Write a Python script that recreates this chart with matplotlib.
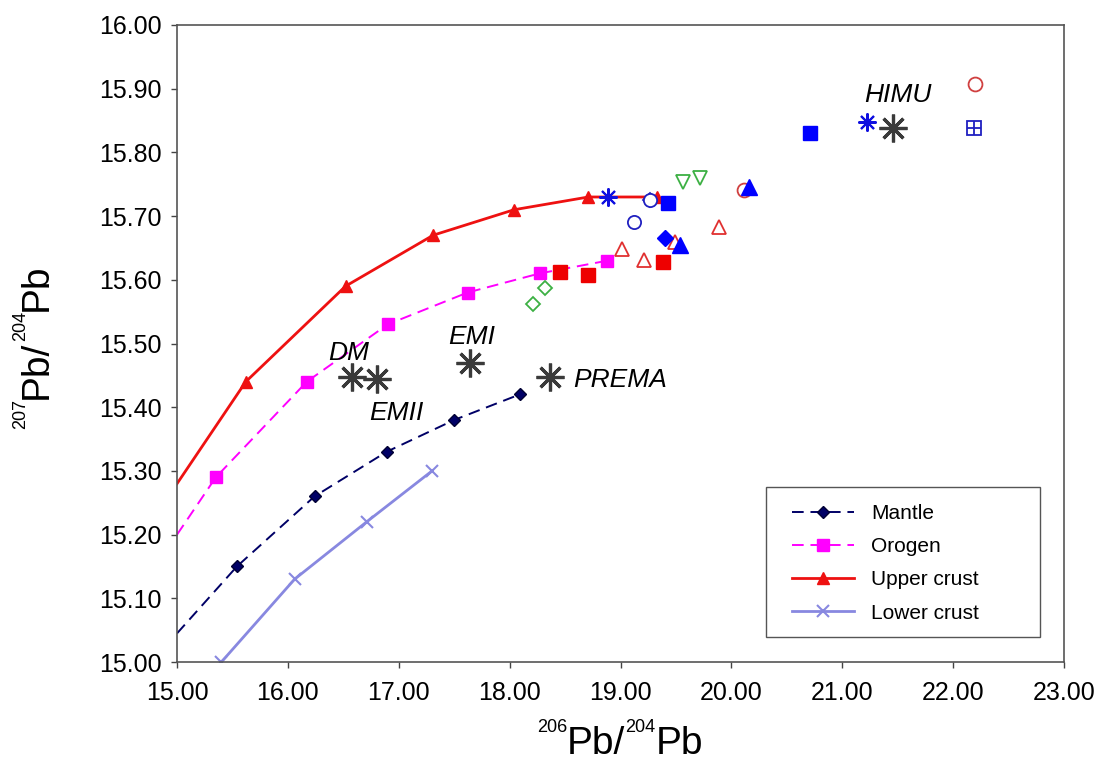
import matplotlib
matplotlib.use('Agg')
import matplotlib.pyplot as plt
from matplotlib.patches import Rectangle
from matplotlib.transforms import IdentityTransform

plt.rcParams['font.family'] = ['Liberation Sans', 'DejaVu Sans']

# growth curves (first point is where the line meets the y axis, no marker)
mantle_x = [15.00, 15.54, 16.24, 16.89, 17.50, 18.09]
mantle_y = [15.045, 15.15, 15.26, 15.33, 15.38, 15.42]
orogen_x = [15.00, 15.35, 16.17, 16.90, 17.62, 18.27, 18.88]
orogen_y = [15.20, 15.29, 15.44, 15.53, 15.58, 15.61, 15.63]
upper_x = [15.00, 15.62, 16.52, 17.31, 18.04, 18.71, 19.33]
upper_y = [15.28, 15.44, 15.59, 15.67, 15.71, 15.73, 15.73]
lower_x = [15.40, 16.06, 16.71, 17.30]
lower_y = [15.00, 15.13, 15.22, 15.30]

# mantle end-members
member_names = ['DM', 'EMII', 'EMI', 'PREMA', 'HIMU']
member_x = [16.58, 16.80, 17.64, 18.36, 21.46]
member_y = [15.447, 15.444, 15.469, 15.447, 15.838]

# samples
blue_sq_x = [19.43, 20.71]
blue_sq_y = [15.72, 15.83]
blue_tri_x = [19.54, 20.16]
blue_tri_y = [15.655, 15.745]
blue_dia_x = [19.40]
blue_dia_y = [15.665]
blue_star_x = [18.89, 21.22]
blue_star_y = [15.73, 15.848]
blue_circ_x = [19.12, 19.27]
blue_circ_y = [15.69, 15.725]
blue_odia_x = [19.27]
blue_odia_y = [15.725]
blue_boxplus_x = [22.19]
blue_boxplus_y = [15.838]
red_sq_x = [18.45, 18.71, 19.38]
red_sq_y = [15.613, 15.608, 15.628]
red_otri_x = [19.01, 19.21, 19.49, 19.89]
red_otri_y = [15.648, 15.631, 15.66, 15.683]
red_circ_x = [20.11, 22.20]
red_circ_y = [15.741, 15.907]
green_dia_x = [18.21, 18.32]
green_dia_y = [15.562, 15.587]
green_dtri_x = [19.56, 19.72]
green_dtri_y = [15.754, 15.76]


def pb_label(fig, iso, x0, y0, rotation=0):
    # 206Pb/204Pb with small superscripts, laid out piece by piece in pixels
    pieces = [(iso[0], 13, 22), ('Pb/', 28, 0), (iso[1], 13, 22), ('Pb', 28, 0)]
    renderer = fig.canvas.get_renderer()
    texts, widths = [], []
    for s, size, rise in pieces:
        t = fig.text(0, 0, s, fontsize=size, ha='left', va='baseline',
                     rotation_mode='anchor', transform=IdentityTransform())
        widths.append(t.get_window_extent(renderer).width)
        texts.append((t, rise))
    pos = -sum(widths) / 2
    for (t, rise), w in zip(texts, widths):
        if rotation == 0:
            t.set_position((x0 + pos, y0 + rise))
        else:
            t.set_rotation(90)
            t.set_position((x0 - rise, y0 + pos))
        pos += w


fig = plt.figure(figsize=(11.01, 7.62), dpi=100)
ax = fig.add_axes([0.1608, 0.1312, 0.8056, 0.836])

dash = (0, (6, 3.5))
ax.plot(mantle_x, mantle_y, color='#000066', ls=dash, lw=1.4,
        marker='D', ms=6, mec='#000033', markevery=range(1, len(mantle_x)),
        label='Mantle', zorder=2)
ax.plot(orogen_x, orogen_y, color='#FF00FF', ls=dash, lw=1.4,
        marker='s', ms=8.5, markevery=range(1, len(orogen_x)), label='Orogen', zorder=2)
ax.plot(upper_x, upper_y, color='#EE1111', ls='-', lw=2.0,
        marker='^', ms=9, markevery=range(1, len(upper_x)), label='Upper crust', zorder=2)
ax.plot(lower_x, lower_y, color='#8888E0', ls='-', lw=2.0,
        marker='x', ms=9, mew=1.5, label='Lower crust', zorder=2)

# end-members
ax.plot(member_x, member_y, ls='none', marker=(8, 2, 0), ms=20, mew=2.3,
        color='#3a3a3a', zorder=3)
label_pos = {'DM': (16.55, 15.474, 'center'), 'EMII': (16.98, 15.380, 'center'),
             'EMI': (17.66, 15.500, 'center'), 'PREMA': (18.57, 15.432, 'left'),
             'HIMU': (21.50, 15.879, 'center')}
for name in member_names:
    lx, ly, ha = label_pos[name]
    ax.text(lx, ly, name, fontsize=19, style='italic', ha=ha, va='baseline')

# samples
ax.plot(blue_odia_x, blue_odia_y, ls='none', marker='D', ms=7.5, mfc='white',
        mec='#2020C0', mew=1.3, zorder=4)
ax.plot(blue_circ_x, blue_circ_y, ls='none', marker='o', ms=9.5, mfc='white',
        mec='#2020C0', mew=1.3, zorder=4)
ax.plot(red_otri_x, red_otri_y, ls='none', marker='^', ms=10.5, mfc='none',
        mec='#E03030', mew=1.3, zorder=4)
ax.plot(blue_sq_x, blue_sq_y, ls='none', marker='s', ms=10.5, color='#0000FF', zorder=5)
ax.plot(blue_tri_x, blue_tri_y, ls='none', marker='^', ms=12, color='#0000FF', zorder=5)
ax.plot(blue_dia_x, blue_dia_y, ls='none', marker='D', ms=8.5, color='#0000FF', zorder=5)
ax.plot(blue_star_x, blue_star_y, ls='none', marker=(8, 2, 0), ms=13, mew=1.5,
        color='#1010E0', zorder=5)
ax.plot(blue_boxplus_x, blue_boxplus_y, ls='none', marker='s', ms=10, mfc='none',
        mec='#2020C0', mew=1.3, zorder=5)
ax.plot(blue_boxplus_x, blue_boxplus_y, ls='none', marker='+', ms=10, mew=1.3,
        color='#2020C0', zorder=5)
ax.plot(red_sq_x, red_sq_y, ls='none', marker='s', ms=10, color='#EE0000', zorder=5)
ax.plot(red_circ_x, red_circ_y, ls='none', marker='o', ms=10, mfc='none',
        mec='#D04040', mew=1.3, zorder=4)
ax.plot(green_dia_x, green_dia_y, ls='none', marker='D', ms=7.5, mfc='none',
        mec='#3CB043', mew=1.3, zorder=4)
ax.plot(green_dtri_x, green_dtri_y, ls='none', marker='v', ms=10.5, mfc='none',
        mec='#3CB043', mew=1.3, zorder=4)

ax.set_xlim(15, 23)
ax.set_ylim(15, 16)
ax.set_xticks([15 + i for i in range(9)])
ax.set_yticks([15 + i / 10 for i in range(11)])
ax.xaxis.set_major_formatter('{x:.2f}')
ax.yaxis.set_major_formatter('{x:.2f}')
ax.tick_params(axis='both', direction='out', length=4, width=1, color='#444444',
               labelsize=18)
ax.tick_params(axis='x', pad=10)
ax.tick_params(axis='y', pad=7)
for sp in ax.spines.values():
    sp.set_color('#555555')
    sp.set_linewidth(1.2)

# legend box drawn separately so it can be wider than its content
ax.add_patch(Rectangle((0.664, 0.039), 0.309, 0.236, transform=ax.transAxes,
                       fill=False, ec='#555555', lw=1.0, zorder=6))
ax.legend(loc='upper left', bbox_to_anchor=(0.693, 0.248), frameon=False,
          fontsize=15, handlelength=3.0, handletextpad=0.8, labelspacing=0.68,
          borderpad=0, borderaxespad=0)

pb_label(fig, ('206', '204'), 620, 8)
pb_label(fig, ('207', '204'), 47, 416, rotation=90)

fig.savefig('out.png', dpi=100)
